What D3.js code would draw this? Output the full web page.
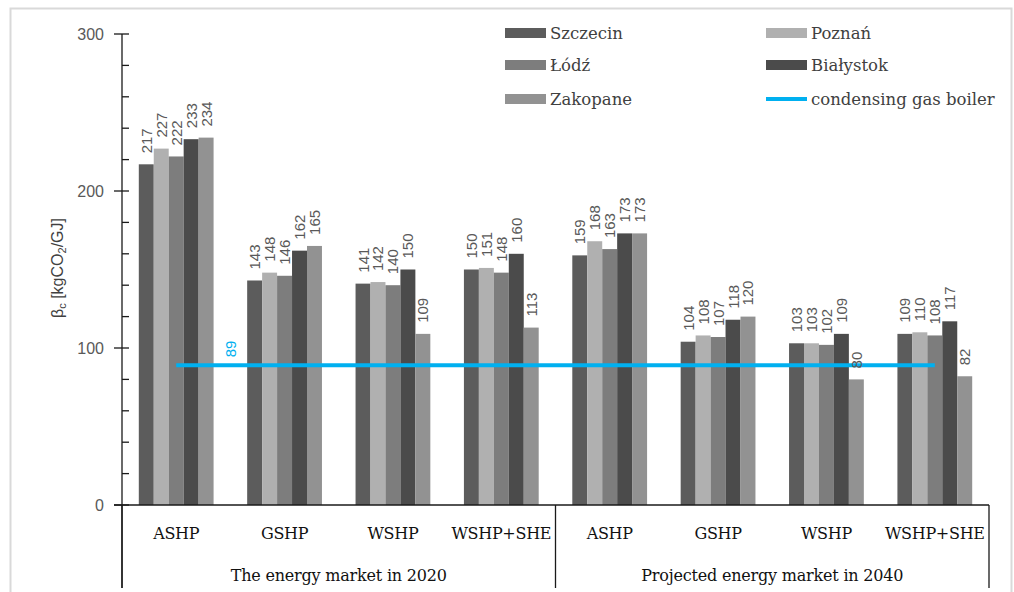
<!DOCTYPE html>
<html><head><meta charset="utf-8">
<script src="https://cdn.jsdelivr.net/npm/d3@7/dist/d3.min.js"></script>
<style>body{margin:0;background:#fff}svg{display:block}</style>
</head><body>
<svg id="chart" width="1014" height="592"></svg>
<script>
const categories = ["ASHP","GSHP","WSHP","WSHP+SHE","ASHP","GSHP","WSHP","WSHP+SHE"];
const groupLabels = ["The energy market in 2020","Projected energy market in 2040"];
const seriesNames = ["Szczecin","Poznań","Łódź","Białystok","Zakopane"];
const szczecin  = [217,143,141,150,159,104,103,109];
const poznan    = [227,148,142,151,168,108,103,110];
const lodz      = [222,146,140,148,163,107,102,108];
const bialystok = [233,162,150,160,173,118,109,117];
const zakopane  = [234,165,109,113,173,120,80,82];
const boiler = 89;
const yTicks = [0,100,200,300];
const seriesColors = ["#5c5c5c","#b0b0b0","#7d7d7d","#4b4b4b","#929292"];
const lineColor = "#00b0f0";

const seriesValues = [szczecin, poznan, lodz, bialystok, zakopane];
const svg = d3.select("#chart");

// frame
svg.append("rect").attr("x",10.5).attr("y",8.5).attr("width",1001).attr("height",620)
  .attr("fill","none").attr("stroke","#d9d9d9").attr("stroke-width",2);

const x = d3.scaleBand().domain(d3.range(categories.length)).range([122,989]).paddingInner(0.31).paddingOuter(0.155);
const xs = d3.scaleBand().domain(d3.range(seriesNames.length)).range([0,x.bandwidth()]);
const y = d3.scaleLinear().domain([0,300]).range([505,34]);

// bars
seriesValues.forEach((vals,si)=>{
  svg.append("g").selectAll("rect").data(vals).join("rect")
    .attr("x",(d,i)=>x(i)+xs(si)).attr("width",xs.bandwidth())
    .attr("y",d=>y(d)).attr("height",d=>y(0)-y(d))
    .attr("fill",seriesColors[si]);
});

// boiler line
const lineData = d3.range(categories.length).map(i=>[x(i)+x.bandwidth()/2, y(boiler)]);
svg.append("path").attr("d",d3.line()(lineData)).attr("stroke",lineColor).attr("stroke-width",4).attr("fill","none");

// data labels
seriesValues.forEach((vals,si)=>{
  svg.append("g").selectAll("text").data(vals).join("text")
    .attr("transform",(d,i)=>`translate(${x(i)+xs(si)+xs.bandwidth()/2},${y(d)-11}) rotate(-90)`)
    .attr("text-anchor","start").attr("dominant-baseline","central")
    .attr("font-family","Liberation Sans, Arial, sans-serif").attr("font-size",15)
    .attr("fill","#595959").text(d=>d);
});
svg.append("text")
  .attr("transform",`translate(${x(0)+x.bandwidth()/2+x.step()/2},${y(boiler)-8}) rotate(-90)`)
  .attr("text-anchor","start").attr("dominant-baseline","central")
  .attr("font-family","Liberation Sans, Arial, sans-serif").attr("font-size",15)
  .attr("fill",lineColor).text(boiler);

// y axis
const axisColor = "#1a1a1a";
svg.append("line").attr("x1",122).attr("x2",122).attr("y1",y(300)).attr("y2",588).attr("stroke",axisColor).attr("stroke-width",1.3);
const minor = d3.range(0,301,20).filter(v=>v%100!==0);
svg.append("g").selectAll("line").data(minor).join("line")
  .attr("x1",122).attr("x2",129).attr("y1",d=>y(d)).attr("y2",d=>y(d)).attr("stroke",axisColor).attr("stroke-width",1.3);
svg.append("g").selectAll("line").data(yTicks).join("line")
  .attr("x1",114).attr("x2",129).attr("y1",d=>y(d)).attr("y2",d=>y(d)).attr("stroke",axisColor).attr("stroke-width",1.3);
svg.append("g").selectAll("text").data(yTicks).join("text")
  .attr("x",104).attr("y",d=>y(d)).attr("text-anchor","end").attr("dominant-baseline","central")
  .attr("font-family","Liberation Sans, Arial, sans-serif").attr("font-size",16).attr("fill","#595959").text(d=>d);

// y title
const yt = svg.append("text").attr("transform","translate(63,268) rotate(-90)")
  .attr("text-anchor","middle").attr("font-family","Liberation Sans, Arial, sans-serif").attr("font-size",16).attr("fill","#404040");
yt.append("tspan").text("β");
yt.append("tspan").attr("font-size",11).attr("dy",3).text("c");
yt.append("tspan").attr("dy",-3).text(" [kgCO");
yt.append("tspan").attr("font-size",11).attr("dy",3).text("2");
yt.append("tspan").attr("dy",-3).text("/GJ]");

// x axis
svg.append("line").attr("x1",114).attr("x2",989).attr("y1",y(0)).attr("y2",y(0)).attr("stroke",axisColor).attr("stroke-width",1.3);
const mid = (x(3)+x.bandwidth()+x(4))/2;
[122, mid, 989].forEach(xx=>{
  svg.append("line").attr("x1",xx).attr("x2",xx).attr("y1",y(0)).attr("y2",588).attr("stroke",axisColor).attr("stroke-width",1.3);
});
svg.append("g").selectAll("text").data(categories).join("text")
  .attr("x",(d,i)=>x(i)+x.bandwidth()/2).attr("y",539).attr("text-anchor","middle")
  .attr("font-family","DejaVu Serif, serif").attr("font-size",16).attr("letter-spacing",-0.3).attr("fill","#111").text(d=>d);
svg.append("g").selectAll("text").data(groupLabels).join("text")
  .attr("x",(d,i)=>i===0?(122+mid)/2:(mid+989)/2).attr("y",581).attr("text-anchor","middle")
  .attr("font-family","DejaVu Serif, serif").attr("font-size",16).attr("letter-spacing",-0.2).attr("fill","#111").text(d=>d);

// legend
const legendItems = [
  {name:seriesNames[0], color:seriesColors[0], type:"bar", col:0, row:0},
  {name:seriesNames[1], color:seriesColors[1], type:"bar", col:1, row:0},
  {name:seriesNames[2], color:seriesColors[2], type:"bar", col:0, row:1},
  {name:seriesNames[3], color:seriesColors[3], type:"bar", col:1, row:1},
  {name:seriesNames[4], color:seriesColors[4], type:"bar", col:0, row:2},
  {name:"condensing gas boiler", color:lineColor, type:"line", col:1, row:2}
];
const colX = [505, 766], rowY = [33, 65, 99];
legendItems.forEach(it=>{
  const lx = colX[it.col], ly = rowY[it.row];
  if(it.type==="bar") svg.append("rect").attr("x",lx).attr("y",ly-5).attr("width",41).attr("height",10).attr("fill",it.color);
  else svg.append("line").attr("x1",lx).attr("x2",lx+41).attr("y1",ly).attr("y2",ly).attr("stroke",it.color).attr("stroke-width",4);
  svg.append("text").attr("x",lx+45).attr("y",ly).attr("dominant-baseline","central")
    .attr("font-family","DejaVu Serif, serif").attr("font-size",16.5).attr("fill","#404040").text(it.name);
});
</script>
</body></html>
